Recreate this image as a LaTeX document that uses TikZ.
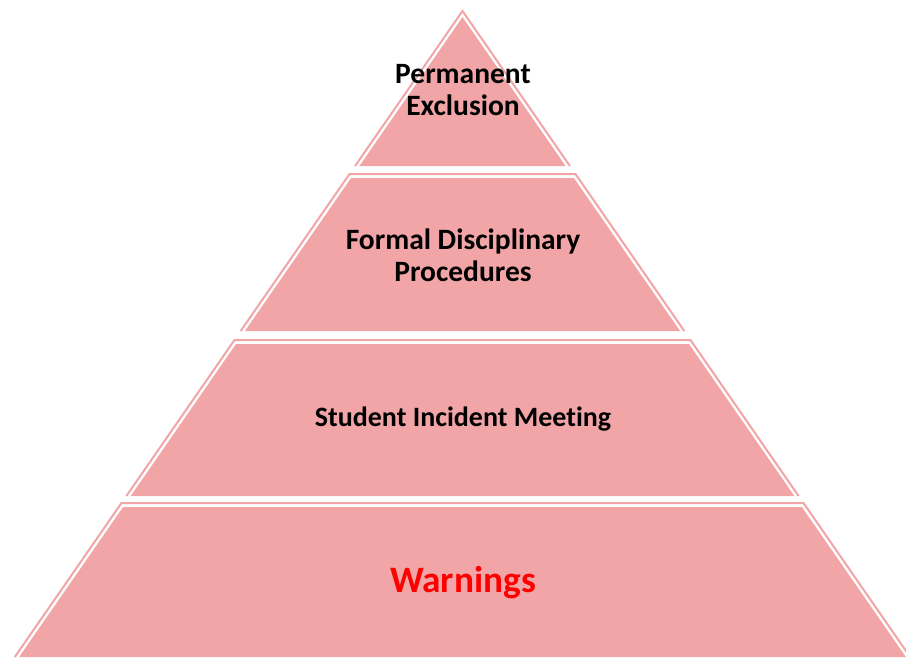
\documentclass[tikz,border=0pt]{standalone}
\usepackage{fontspec}
\setmainfont{Carlito}[RawFeature=-liga]
\definecolor{tierpink}{RGB}{242,165,167}
\definecolor{warnred}{RGB}{255,0,0}
\begin{document}
\begin{tikzpicture}[x=1pt,y=-1pt,
  tierline/.style={draw=tierpink,line width=2pt,line join=miter},
  tiertext/.style={align=center,font=\fontsize{29.5}{32}\selectfont\bfseries,text=black,inner sep=0pt},
  tiertextb/.style={align=center,font=\fontsize{28}{32}\selectfont\bfseries,text=black,inner sep=0pt},
  warntext/.style={align=center,font=\fontsize{37.3}{44}\selectfont\bfseries,text=warnred,inner sep=0pt}]
\useasboundingbox (0,0) rectangle (906,657);
\begin{scope}
\clip (0,0) rectangle (906,657);
% tier 1
\draw[tierline] (355.1,166) -- (462.5,11) -- (569.9,166);
\fill[tierpink] (359.4,166) -- (462.5,17.1) -- (565.6,166) -- cycle;
% tier 2
\draw[tierline] (240.7,331) -- (349.5,174) -- (575.5,174) -- (684.3,331);
\fill[tierpink] (244.9,331) -- (351.1,178) -- (573.9,178) -- (680.1,331) -- cycle;
% tier 3
\draw[tierline] (126.4,496) -- (234.5,340) -- (690.5,340) -- (798.6,496);
\fill[tierpink] (130.7,496) -- (236.0,344) -- (689.0,344) -- (794.4,496) -- cycle;
% tier 4
\draw[tierline] (14.8,657) -- (121.5,503) -- (803.5,503) -- (910.2,657);
\fill[tierpink] (19.1,657) -- (123.1,507) -- (801.9,507) -- (905.9,657) -- cycle;
\end{scope}
\node[tiertext] (t1) at (463,90) {Permanent\\Exclusion};
\node[tiertext] (t2) at (463,255) {Formal Disciplinary\\Procedures};
\node[tiertextb] (t3) at (463,419) {Student Incident Meeting};
\node[warntext] (t4) at (463,583) {Warnings};
\end{tikzpicture}
\end{document}
